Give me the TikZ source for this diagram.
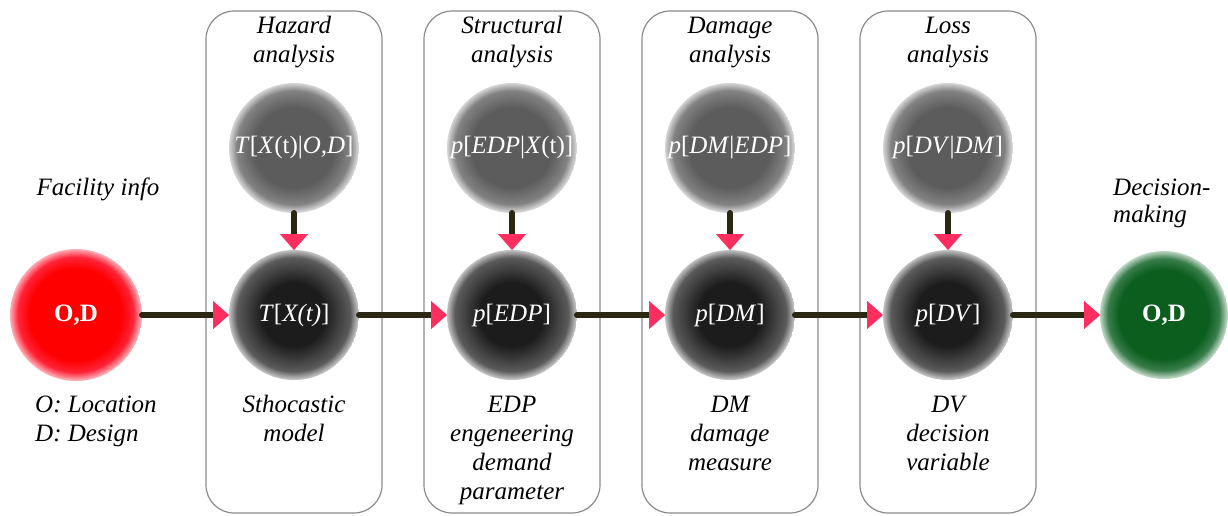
\documentclass[tikz,border=0pt]{standalone}
\usepackage{fontspec}
\setmainfont{Liberation Serif}
\usetikzlibrary{arrows.meta}
\definecolor{linecol}{HTML}{2A2812}
\definecolor{apink}{HTML}{FF2E5E}
\definecolor{boxcol}{HTML}{8A8A8A}
\definecolor{tgA}{HTML}{5C5C5C}
\definecolor{tgB}{HTML}{828282}
\definecolor{tgC}{HTML}{D8D8D8}
\definecolor{bgA}{HTML}{1C1C1C}
\definecolor{bgB}{HTML}{5A5A5A}
\definecolor{bgC}{HTML}{C4C4C4}
\definecolor{rdA}{HTML}{FF0000}
\definecolor{rdB}{HTML}{FF2438}
\definecolor{rdC}{HTML}{FFB0B8}
\definecolor{gnA}{HTML}{0B5E1E}
\definecolor{gnB}{HTML}{3A7E4C}
\definecolor{gnC}{HTML}{C0D8C6}
% soft radial fill: #1 radius (pt), #2 centre colour, #3 ring colour, #4 rim colour, #5 inner flat fraction
\newcommand\ballfill[5]{%
  \foreach \k in {0,...,11}{%
    \pgfmathsetmacro\rr{#1*(1-0.12*\k/11)}%
    \pgfmathtruncatemacro\pp{100*\k/11}%
    \fill[#3!\pp!#4] (path picture bounding box.center) circle (\rr pt);
  }%
  \foreach \k in {1,...,18}{%
    \pgfmathsetmacro\rr{#1*(0.88-(0.88-#5)*\k/18)}%
    \pgfmathtruncatemacro\pp{100*\k/18}%
    \fill[#2!\pp!#3] (path picture bounding box.center) circle (\rr pt);
  }%
}
\newcommand\up[1]{\textup{#1}}
\newcommand\fl{\rule{0pt}{18pt}}
\tikzset{
  ball/.style={circle, minimum size=130pt, inner sep=0pt, outer sep=0pt, text=white,
    font=\fontsize{25}{30}\selectfont\itshape},
  topc/.style={ball, path picture={\ballfill{65}{tgA}{tgB}{tgC}{0.62}}},
  botc/.style={ball, path picture={\ballfill{65}{bgA}{bgB}{bgC}{0.5}}},
  redc/.style={ball, minimum size=132pt, font=\fontsize{25}{30}\selectfont\bfseries,
    path picture={\ballfill{66}{rdA}{rdB}{rdC}{0.7}}},
  greenc/.style={ball, minimum size=128pt, font=\fontsize{25}{30}\selectfont\bfseries,
    path picture={\ballfill{64}{gnA}{gnB}{gnC}{0.7}}},
  colbox/.style={draw=boxcol, line width=1.2pt, rounded corners=28pt, minimum width=176pt,
    minimum height=502pt, inner sep=0pt},
  lbl/.style={font=\fontsize{25}{29}\selectfont\itshape, align=center, inner sep=0pt, text=black},
  conn/.style={draw=linecol, line width=6pt, line cap=round,
    -{Triangle[length=16pt, width=28pt, line width=0.01pt, color=apink, fill=apink]}},
}
\begin{document}
\begin{tikzpicture}[x=1pt, y=-1pt]
\useasboundingbox (0,0) rectangle (1228,515);
% column boxes
\node[colbox] (box1) at (294,262) {};
\node[colbox] (box2) at (512,262) {};
\node[colbox] (box3) at (730,262) {};
\node[colbox] (box4) at (948,262) {};
% titles
\node[lbl, anchor=north] (ttl1) at (294,15) {\fl Hazard\\analysis};
\node[lbl, anchor=north] (ttl2) at (512,15) {\fl Structural\\analysis};
\node[lbl, anchor=north] (ttl3) at (730,15) {\fl Damage\\analysis};
\node[lbl, anchor=north] (ttl4) at (948,15) {\fl Loss\\analysis};
% top circles
\node[topc] (t1) at (294,148) {T\up{[}X\up{(t)|}O,D\up{]}};
\node[topc] (t2) at (512,148) {p\up{[}EDP\up{|}X\up{(t)]}};
\node[topc] (t3) at (730,148) {p\up{[}DM\up{|}EDP\up{]}};
\node[topc] (t4) at (948,148) {p\up{[}DV\up{|}DM\up{]}};
% bottom circles
\node[redc] (src) at (76,315) {O,D};
\node[botc] (b1) at (294,315) {T\up{[}X(t)\up{]}};
\node[botc] (b2) at (512,315) {p\up{[}EDP\up{]}};
\node[botc] (b3) at (730,315) {p\up{[}DM\up{]}};
\node[botc] (b4) at (948,315) {p\up{[}DV\up{]}};
\node[greenc] (dst) at (1164,315) {O,D};
% connectors
\draw[conn] (t1) -- (b1);
\draw[conn] (t2) -- (b2);
\draw[conn] (t3) -- (b3);
\draw[conn] (t4) -- (b4);
\draw[conn] (src) -- (b1);
\draw[conn] (b1) -- (b2);
\draw[conn] (b2) -- (b3);
\draw[conn] (b3) -- (b4);
\draw[conn] (b4) -- (dst);
% side labels
\node[lbl, anchor=base] (fac) at (98,195) {Facility info};
\node[lbl, anchor=north west, align=left] (od) at (35,394) {\fl O: Location\\D: Design};
\node[lbl, anchor=north west, align=left, font=\fontsize{25}{27}\selectfont\itshape] (dec) at (1113,177) {\fl Decision-\\making};
% bottom labels
\node[lbl, anchor=north] (bl1) at (294,394) {\fl Sthocastic\\model};
\node[lbl, anchor=north] (bl2) at (512,394) {\fl EDP\\engeneering\\demand\\parameter};
\node[lbl, anchor=north] (bl3) at (730,394) {\fl DM\\damage\\measure};
\node[lbl, anchor=north] (bl4) at (948,394) {\fl DV\\decision\\variable};
\end{tikzpicture}
\end{document}
